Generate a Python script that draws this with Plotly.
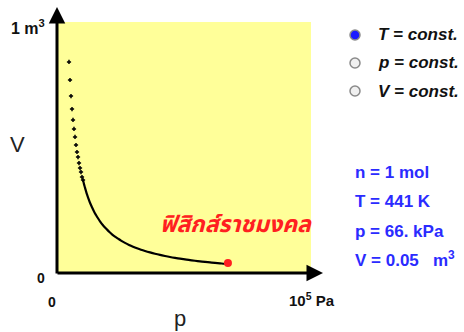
import plotly.graph_objects as go

# ---- data (p in kPa, V in m^3) ----
p_sparse = [4.72, 5.12, 5.51, 5.91, 6.30, 6.69, 7.09, 7.48, 7.87, 8.27, 8.66, 9.06, 9.45, 9.84, 10.24]
V_sparse = [0.841, 0.769, 0.705, 0.653, 0.610, 0.574, 0.542, 0.510, 0.482, 0.462, 0.438, 0.418, 0.402, 0.382, 0.371]

p_dense = [10.24, 10.63, 11.02, 11.42, 11.81, 12.20, 12.99, 13.78, 14.57, 15.35, 16.14, 16.93,
           18.11, 19.29, 20.47, 21.65, 22.83, 24.02, 25.20, 26.77, 28.35, 29.92, 31.50, 33.07,
           34.65, 36.61, 38.58, 40.55, 42.52, 44.49, 46.46, 48.43, 50.39, 52.36, 54.33, 56.30,
           58.27, 60.24, 62.20, 64.17, 66.14, 67.3]
V_dense = [0.371, 0.354, 0.340, 0.326, 0.313, 0.301, 0.280, 0.262, 0.245, 0.231, 0.218, 0.206,
           0.190, 0.177, 0.165, 0.154, 0.145, 0.137, 0.129, 0.120, 0.112, 0.105, 0.0986, 0.0929,
           0.0878, 0.0820, 0.0767, 0.0720, 0.0678, 0.0639, 0.0604, 0.0572, 0.0542, 0.0515, 0.0489, 0.0466,
           0.0443, 0.0423, 0.0404, 0.0386, 0.0369, 0.040]

p_current = [67.3]
V_current = [0.040]

modes = ["T = const.", "p = const.", "V = const."]
selected = 0
info_lines = ["n = 1 mol", "T = 441 K", "p = 66. kPa", "V = 0.05&#160;&#160;&#160;m<sup>3</sup>"]
thai_label = "ฟิสิกส์ราชมงคล"

# ---- layout geometry (pixels) ----
W, H = 464, 332
L, R, T, B = 57, 311, 22, 273

def px(x):
    return (x - L) / (R - L)

def py(y):
    return (B - y) / (B - T)

FONT = "Liberation Sans, Arial, sans-serif"

fig = go.Figure()
fig.add_trace(go.Scatter(x=p_sparse, y=V_sparse, mode="markers",
                         marker=dict(color="black", size=3, symbol="cross-thin",
                                     line=dict(color="black", width=1.5)),
                         hoverinfo="skip"))
fig.add_trace(go.Scatter(x=p_dense, y=V_dense, mode="lines",
                         line=dict(color="black", width=2.2, shape="spline"),
                         hoverinfo="skip"))
fig.add_trace(go.Scatter(x=p_current, y=V_current, mode="markers",
                         marker=dict(color="#ff2020", size=8),
                         hoverinfo="skip"))

ann = []
# axes arrows
ann.append(dict(xref="paper", yref="paper", x=px(323), y=py(273), ax=-(323 - 56), ay=0,
                text="", showarrow=True, arrowhead=2, arrowsize=1.1, arrowwidth=3, arrowcolor="black"))
ann.append(dict(xref="paper", yref="paper", x=px(57), y=py(7), ax=0, ay=(275 - 7),
                text="", showarrow=True, arrowhead=2, arrowsize=1.1, arrowwidth=3, arrowcolor="black"))

def txt(x, y, s, size, color="black", bold=False, italic=False, xanchor="center", family=FONT):
    if bold:
        s = "<b>" + s + "</b>"
    if italic:
        s = "<i>" + s + "</i>"
    ann.append(dict(xref="paper", yref="paper", x=px(x), y=py(y), text=s, showarrow=False,
                    xanchor=xanchor, yanchor="middle",
                    font=dict(family=family, size=size, color=color)))

txt(9, 27, "1 m<sup>3</sup>", 16, "#111", bold=True, xanchor="left")
txt(41, 278, "0", 14, "#111", bold=True)
txt(52, 302, "0", 14, "#111", bold=True)
txt(287, 299, "10<sup>5</sup> Pa", 15, "#111", bold=True, xanchor="left")
txt(180, 318, "p", 22, "#222")
txt(17, 144, "V", 22, "#222")

legend_y = [35, 63, 91]
shapes = []
for i, (lbl, yy) in enumerate(zip(modes, legend_y)):
    fill = "#1a1aff" if i == selected else "#f0f0f0"
    r = 5
    shapes.append(dict(type="circle", xref="paper", yref="paper",
                       x0=px(355 - r), x1=px(355 + r), y0=py(yy + r), y1=py(yy - r),
                       fillcolor=fill, line=dict(color="#8a8a8a", width=1.5)))
    txt(376, yy, lbl, 17, "#111", bold=True, italic=True, xanchor="left")

info_y = [172, 201, 231, 259]
for s, yy in zip(info_lines, info_y):
    txt(353, yy, s, 17, "#2b2bff", bold=True, xanchor="left")

txt(236, 225, thai_label, 23, "#ff2020", bold=True, italic=True,
    family="Noto Sans Thai, Noto Sans, DejaVu Sans, sans-serif")

fig.update_layout(
    width=W, height=H,
    margin=dict(l=L, r=W - R, t=T, b=H - B, pad=0),
    paper_bgcolor="white", plot_bgcolor="#ffff99",
    showlegend=False,
    xaxis=dict(range=[0, 100], visible=False, fixedrange=True),
    yaxis=dict(range=[0, 1], visible=False, fixedrange=True),
    annotations=ann, shapes=shapes,
)
fig.write_html("out.html", config={"displayModeBar": False},
               post_script="document.body.style.margin='0';")
